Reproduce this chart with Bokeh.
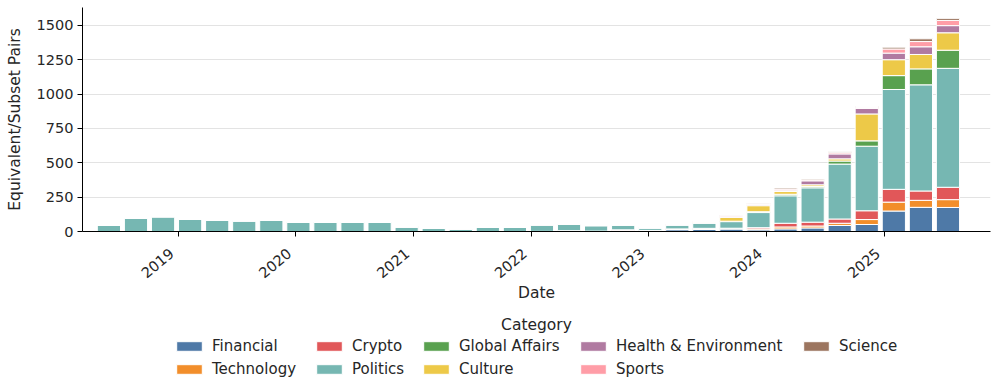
import pandas as pd
from bokeh.plotting import figure
from bokeh.layouts import column
from bokeh.models import ColumnDataSource, Range1d, FixedTicker, Legend, LegendItem
from bokeh.core.properties import value
from bokeh.embed import file_html
from bokeh.resources import INLINE

# ---- data ----
bin_start = "2018-05-31"
bin_days = 84
n_bins = 32
dates = pd.date_range(bin_start, periods=n_bins, freq=f"{bin_days}D")

categories = ["Financial", "Technology", "Crypto", "Politics", "Global Affairs",
              "Culture", "Health & Environment", "Sports", "Science"]
colors = ["#4e79a7", "#f28e2b", "#e15759", "#76b7b2", "#59a14f",
          "#edc948", "#b07aa1", "#ff9da7", "#9c755f"]

financial = [0, 0, 0, 0, 0, 0, 0, 0, 0, 0, 0, 0, 0, 0, 0, 0,
             1, 6, 3, 10, 6, 13, 16, 18, 12, 19, 26, 44, 51, 149, 176, 175]
technology = [0, 0, 0, 0, 0, 0, 0, 0, 0, 0, 0, 0, 0, 0, 0, 0,
              0, 0, 0, 0, 0, 2, 2, 3, 7, 14, 14, 16, 36, 65, 51, 57]
crypto = [0, 0, 0, 0, 0, 0, 0, 0, 0, 0, 0, 0, 0, 0, 0, 0,
          0, 0, 0, 2, 2, 4, 5, 3, 9, 27, 28, 31, 64, 93, 68, 90]
politics = [45, 98, 108, 88, 81, 78, 81, 68, 68, 68, 68, 34, 22, 19, 30, 30,
            47, 47, 40, 36, 18, 28, 38, 48, 110, 200, 250, 400, 470, 727, 773, 866]
global_affairs = [0, 0, 0, 0, 0, 0, 0, 0, 0, 0, 0, 0, 0, 0, 0, 0,
                  0, 0, 0, 0, 0, 0, 1, 3, 6, 11, 9, 22, 39, 101, 116, 132]
culture = [0, 0, 0, 0, 0, 0, 0, 0, 0, 0, 0, 0, 0, 0, 0, 0,
           0, 0, 0, 0, 0, 3, 7, 28, 44, 20, 13, 16, 196, 116, 105, 127]
health_env = [0, 0, 0, 0, 0, 0, 0, 0, 0, 0, 0, 0, 0, 0, 0, 0,
              2, 0, 0, 0, 3, 0, 0, 5, 7, 10, 29, 36, 40, 48, 56, 52]
sports = [0, 0, 0, 0, 0, 0, 0, 0, 0, 0, 0, 0, 0, 0, 0, 0,
          0, 2, 3, 3, 3, 4, 2, 10, 5, 8, 7, 9, 7, 30, 38, 38]
science = [0, 0, 0, 0, 0, 0, 0, 0, 0, 0, 0, 0, 0, 0, 0, 0,
           0, 0, 0, 0, 0, 0, 0, 2, 5, 8, 7, 7, 7, 13, 20, 15]

year_ticks = [2019, 2020, 2021, 2022, 2023, 2024, 2025]
y_ticks = [0, 250, 500, 750, 1000, 1250, 1500]

# legend columns (each column holds up to two entries)
legend_columns = [["Financial", "Technology"], ["Crypto", "Politics"],
                  ["Global Affairs", "Culture"], ["Health & Environment", "Sports"],
                  ["Science"]]

series = [financial, technology, crypto, politics, global_affairs,
          culture, health_env, sports, science]
data = {"date": dates}
for cat, vals in zip(categories, series):
    data[cat] = vals
src = ColumnDataSource(data)

DAY_MS = 86400000
ref = pd.Timestamp("2019-01-01")
x0 = (ref - pd.Timedelta(days=297)).value // 10**6
x1 = (ref + pd.Timedelta(days=2521)).value // 10**6

FONT = "DejaVu Sans"
TXT = "#262626"
W = 993
FRAME_L = 82
FRAME_R = 990

p = figure(width=W, height=311, x_axis_type="datetime",
           output_backend="svg", toolbar_location=None,
           x_range=Range1d(x0, x1), y_range=Range1d(0, 1631),
           min_border_left=FRAME_L, min_border_right=W - FRAME_R, min_border_top=7,
           min_border_bottom=80)

renderers = p.vbar_stack(categories, x="date", width=72 * DAY_MS, color=colors,
                         source=src, line_color="white", line_width=1)

# x axis: year tick marks (as minor ticks) at Jan 1, labels set slightly left of them
tick_ms = [pd.Timestamp(f"{y}-01-01").value // 10**6 for y in year_ticks]
label_shift_ms = 20 * DAY_MS
label_ms = [t - label_shift_ms for t in tick_ms]

p.xaxis.ticker = FixedTicker(ticks=label_ms, minor_ticks=tick_ms)
p.xaxis.major_label_overrides = {t: str(y) for t, y in zip(label_ms, year_ticks)}
p.xaxis.major_label_orientation = 0.70
p.xaxis.major_tick_line_color = None
p.xaxis.major_tick_out = 0
p.xaxis.major_tick_in = 0
p.xaxis.minor_tick_line_color = "black"
p.xaxis.minor_tick_out = 5
p.xaxis.minor_tick_in = 0
p.xaxis.major_label_standoff = 15
p.xaxis.axis_label = "Date"
p.xaxis.axis_label_standoff = -2

p.yaxis.ticker = FixedTicker(ticks=y_ticks)
p.yaxis.major_tick_line_color = "black"
p.yaxis.major_tick_out = 5
p.yaxis.major_tick_in = 0
p.yaxis.minor_tick_line_color = None
p.yaxis.major_label_standoff = 4
p.yaxis.axis_label = "Equivalent/Subset Pairs"
p.yaxis.axis_label_standoff = 10

for ax in (p.xaxis, p.yaxis):
    ax.axis_line_color = "black"
    ax.axis_line_width = 1
    ax.major_label_text_font = FONT
    ax.major_label_text_font_size = "14.5px"
    ax.major_label_text_color = TXT
    ax.axis_label_text_font = FONT
    ax.axis_label_text_font_size = "15.5px"
    ax.axis_label_text_font_style = "normal"
    ax.axis_label_text_color = TXT

p.xgrid.grid_line_color = None
p.ygrid.grid_line_color = "#e3e3e3"
p.ygrid.grid_line_width = 1
p.outline_line_color = None
p.background_fill_color = "white"
p.border_fill_color = "white"

# ---- legend panel (its frame is aligned with the chart frame by the column layout) ----
LH = 77
lp = figure(width=W, height=LH, output_backend="svg", toolbar_location=None,
            x_range=Range1d(FRAME_L, FRAME_R), y_range=Range1d(0, LH),
            min_border=0, x_axis_location=None, y_axis_location=None)
lp.xgrid.grid_line_color = None
lp.ygrid.grid_line_color = None
lp.outline_line_color = None
lp.background_fill_color = "white"
lp.border_fill_color = "white"

# same stacked bars, hidden in this panel; they only supply the legend swatches
swatch_r = lp.vbar_stack(categories, x="date", width=72 * DAY_MS, color=colors,
                         source=src, line_color="white", line_width=1)
for r in swatch_r:
    r.visible = False
swatch = dict(zip(categories, swatch_r))

lp.text(x=[536], y=[64], text=["Category"], text_align="center", text_baseline="middle",
        text_font=value(FONT), text_font_size=value("15.5px"), text_color=TXT)

col_x = [173, 313, 420, 577, 800]
for xs, names in zip(col_x, legend_columns):
    y_bottom = 10 if len(names) == 2 else 33
    lg = Legend(items=[LegendItem(label=c, renderers=[swatch[c]]) for c in names],
                orientation="vertical", location=(xs - FRAME_L, y_bottom),
                label_text_font=FONT, label_text_font_size="15px", label_text_color=TXT,
                glyph_width=32, glyph_height=12, label_standoff=7, spacing=5,
                padding=0, margin=0, inactive_fill_alpha=0,
                border_line_color=None, background_fill_alpha=0)
    lp.add_layout(lg, "center")

open("out.html", "w").write(file_html(column(p, lp), INLINE))
